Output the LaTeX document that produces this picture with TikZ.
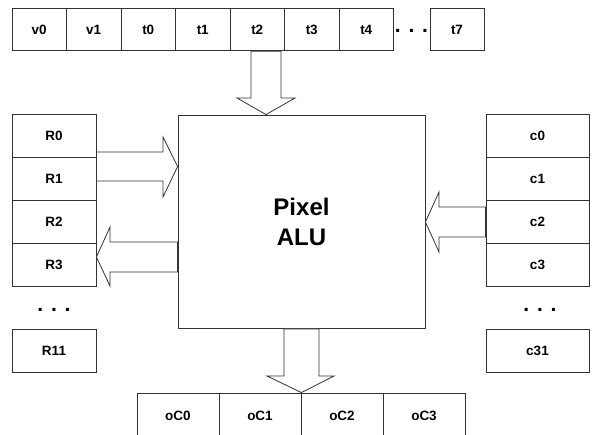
\documentclass[tikz,border=0pt]{standalone}
\usepackage{fontspec}
\setmainfont{Liberation Sans}
\begin{document}
\begin{tikzpicture}[x=1pt,y=-1pt,
  cell/.style={draw=black!80, line width=0.8pt, rectangle, inner sep=0pt, fill=white,
    font=\bfseries\fontsize{13.5}{15}\selectfont, text=black},
  dots/.style={inner sep=0pt, anchor=base, font=\bfseries\fontsize{21}{24}\selectfont},
  blockarr/.style={draw=black!80, line width=0.8pt, fill=white, line join=miter}]
\useasboundingbox (0,0) rectangle (592,434);
\clip (0,0) rectangle (592,434);
% top row
\foreach \n [count=\i from 0] in {v0,v1,t0,t1,t2,t3,t4}
  \node[cell, minimum width=54.5pt, minimum height=42.5pt] (\n) at ({12+54.5*(\i+0.5)},29.5) {\n};
\node[dots] (tdots) at (411.5,32) {. . .};
\node[cell, minimum width=54pt, minimum height=42.5pt] (t7) at (457,29.5) {t7};
% ALU
\node[cell, minimum width=247pt, minimum height=213.5pt,
  font=\bfseries\fontsize{24}{30}\selectfont, align=center] (alu) at (301.5,221.75) {Pixel\\ALU};
% R column
\foreach \n/\y in {R0/136,R1/178.5,R2/221.5,R3/264.5}
  \node[cell, minimum width=84pt, minimum height=43pt] (\n) at (54,\y) {\n};
\node[dots] (rdots) at (54,311) {. . .};
\node[cell, minimum width=84pt, minimum height=43pt] (R11) at (54,350.5) {R11};
% c column
\foreach \n/\y in {c0/136,c1/178.5,c2/221.5,c3/264.5}
  \node[cell, minimum width=103pt, minimum height=43pt] (\n) at (537.5,\y) {\n};
\node[dots] (cdots) at (540,311) {. . .};
\node[cell, minimum width=103pt, minimum height=43pt] (c31) at (537.5,350.5) {c31};
% bottom row
\foreach \n [count=\i from 0] in {oC0,oC1,oC2,oC3}
  \node[cell, minimum width=82pt, minimum height=45pt] (\n) at ({137+82*(\i+0.5)},415.5) {\n};
% block arrows
\draw[blockarr] (251,0 |- t2.south) -- (251,98) -- (237,98) -- (266,0 |- alu.north)
  -- (295,98) -- (281,98) -- (281,0 |- t2.south) -- cycle;
\draw[blockarr] (R0.east |- 0,152) -- (163,152) -- (163,137) -- (alu.west |- 0,166.5)
  -- (163,197) -- (163,181) -- (R1.east |- 0,181) -- cycle;
\draw[blockarr] (alu.west |- 0,242) -- (110,242) -- (110,227) -- (R3.east |- 0,257)
  -- (110,286) -- (110,272) -- (alu.west |- 0,272) -- cycle;
\draw[blockarr] (c2.west |- 0,207) -- (439,207) -- (439,192) -- (alu.east |- 0,222)
  -- (439,252) -- (439,237) -- (c2.west |- 0,237) -- cycle;
\draw[blockarr] (284,0 |- alu.south) -- (284,376) -- (267,376) -- (oC1.north east)
  -- (334,376) -- (319,376) -- (319,0 |- alu.south) -- cycle;
\end{tikzpicture}
\end{document}
